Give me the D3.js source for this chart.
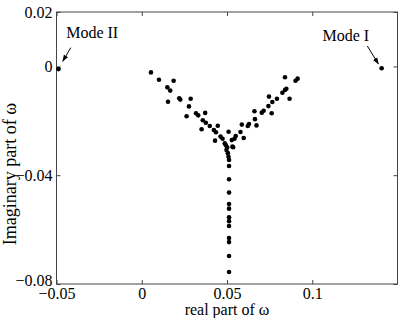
<!DOCTYPE html>
<html>
<head>
<meta charset="utf-8">
<script src="https://cdn.jsdelivr.net/npm/d3@7"></script>
<style>
html,body{margin:0;padding:0;background:#fff;}
svg text{font-family:"Liberation Serif","Times New Roman",serif;}
</style>
</head>
<body>
<svg id="chart" width="415" height="318"></svg>
<script>
// Real parts of omega
const realPart = [
  0.0054, 0.0101, 0.0187, 0.0150, 0.0167, 0.0154, 0.0220, 0.0226, 0.0287, 0.0277,
  0.0263, 0.0318, 0.0331, 0.0372, 0.0358, 0.0376, 0.0399, 0.0351, 0.0423, 0.0435,
  0.0446, 0.0430, 0.0462, 0.0474, 0.0493, 0.0509, 0.0501, 0.0536, 0.0528, 0.0544,
  0.0551, 0.0579, 0.0587, 0.0598, 0.0622, 0.0629, 0.0673, 0.0664, 0.0661, 0.0704,
  0.0715, 0.0762, 0.0743, 0.0766, 0.0746, 0.0793, 0.0825, 0.0840, 0.0848, 0.0840,
  0.0867, 0.0902, 0.0914,
  0.0487, 0.0532, 0.0497, 0.0505, 0.0509, 0.0512, 0.0512, 0.0512, 0.0512, 0.0512,
  0.0512, 0.0512, 0.0512, 0.0512, 0.0512, 0.0512, 0.0512, 0.0512,
  0.1407, -0.0488
];
// Imaginary parts of omega
const imagPart = [
  -0.0022, -0.0049, -0.0053, -0.0077, -0.0089, -0.0130, -0.0117, -0.0122, -0.0119, -0.0147,
  -0.0183, -0.0172, -0.0180, -0.0171, -0.0198, -0.0207, -0.0219, -0.0231, -0.0234, -0.0242,
  -0.0218, -0.0273, -0.0258, -0.0266, -0.0289, -0.0240, -0.0297, -0.0297, -0.0271, -0.0266,
  -0.0256, -0.0241, -0.0214, -0.0263, -0.0219, -0.0212, -0.0217, -0.0194, -0.0165, -0.0170,
  -0.0163, -0.0172, -0.0146, -0.0131, -0.0111, -0.0119, -0.0097, -0.0087, -0.0082, -0.0040,
  -0.0119, -0.0053, -0.0045,
  -0.0283, -0.0295, -0.0307, -0.0319, -0.0332, -0.0344, -0.0366, -0.0415, -0.0464, -0.0506,
  -0.0523, -0.0555, -0.0569, -0.0587, -0.0631, -0.0646, -0.0697, -0.0756,
  -0.0007, -0.0010
];
const xTicks = [-0.05, 0, 0.05, 0.1];
const yTicks = [0.02, 0, -0.04, -0.08];
const xDomain = [-0.05, 0.15];
const yDomain = [-0.08, 0.02];
// annotations: label, text anchor point (data), arrow start (data), arrow end (data)
const annLabels = ["Mode I", "Mode II"];
const annText = [[0.1060, 0.0094], [-0.0443, 0.0103]];
const annFrom = [[0.1323, 0.0075], [-0.0416, 0.0069]];
const annTo = [[0.1388, 0.0009], [-0.0463, 0.0019]];

const svg = d3.select("#chart");
const L = 56.5, R = 397.5, T = 12, B = 284;
const x = d3.scaleLinear().domain(xDomain).range([L, R]);
const y = d3.scaleLinear().domain(yDomain).range([B, T]);
const fmt = d => (d < 0 ? "\u2212" : "") + String(Math.abs(d));
const axisColor = "#444";
const fs = "16px";

// box
svg.append("rect").attr("x", L).attr("y", T).attr("width", R - L).attr("height", B - T)
  .attr("fill", "none").attr("stroke", axisColor).attr("stroke-width", 1);

const tl = 4;
const gB = svg.append("g").attr("transform", `translate(0,${B})`)
  .call(d3.axisBottom(x).tickValues(xTicks).tickSizeInner(-tl).tickSizeOuter(0).tickPadding(8).tickFormat(fmt));
const gT = svg.append("g").attr("transform", `translate(0,${T})`)
  .call(d3.axisTop(x).tickValues(xTicks).tickSizeInner(-tl).tickSizeOuter(0).tickFormat(""));
const gL = svg.append("g").attr("transform", `translate(${L},0)`)
  .call(d3.axisLeft(y).tickValues(yTicks).tickSizeInner(-tl).tickSizeOuter(0).tickPadding(4).tickFormat(fmt));
const gR = svg.append("g").attr("transform", `translate(${R},0)`)
  .call(d3.axisRight(y).tickValues(yTicks).tickSizeInner(-tl).tickSizeOuter(0).tickFormat(""));
[gB, gT, gL, gR].forEach(g => {
  g.select(".domain").remove();
  g.selectAll(".tick line").attr("stroke", axisColor);
  g.selectAll("text").attr("fill", "#000").style("font-size", fs)
    .style("font-family", '"Liberation Serif","Times New Roman",serif');
});
gB.selectAll("text").attr("dy", "0.71em").attr("y", 4);
gL.selectAll(".tick").filter(d => d === -0.08).select("text").attr("dy", "0.1em");

// points
svg.append("g").selectAll("circle").data(realPart.map((d, i) => [d, imagPart[i]]))
  .join("circle").attr("cx", d => x(d[0])).attr("cy", d => y(d[1])).attr("r", 2.3).attr("fill", "#000");

// annotations
const defs = svg.append("defs");
defs.append("marker").attr("id", "ah").attr("viewBox", "0 0 10 10").attr("refX", 9).attr("refY", 5)
  .attr("markerWidth", 7).attr("markerHeight", 7).attr("orient", "auto")
  .append("path").attr("d", "M0,1.5 L10,5 L0,8.5 Z").attr("fill", "#000");
annLabels.forEach((lab, i) => {
  svg.append("text").attr("x", x(annText[i][0])).attr("y", y(annText[i][1]))
    .style("font-size", fs).attr("fill", "#000").text(lab);
  svg.append("line").attr("x1", x(annFrom[i][0])).attr("y1", y(annFrom[i][1]))
    .attr("x2", x(annTo[i][0])).attr("y2", y(annTo[i][1]))
    .attr("stroke", "#000").attr("stroke-width", 1).attr("marker-end", "url(#ah)");
});

// axis labels
svg.append("text").attr("x", (L + R) / 2).attr("y", 315).attr("text-anchor", "middle")
  .style("font-size", fs).text("real part of  \u03C9");
svg.append("text").attr("transform", `translate(16,${(T + B) / 2 + 26}) rotate(-90)`)
  .attr("text-anchor", "middle").style("font-size", "18px").text("Imaginary part of  \u03C9");
</script>
</body>
</html>
